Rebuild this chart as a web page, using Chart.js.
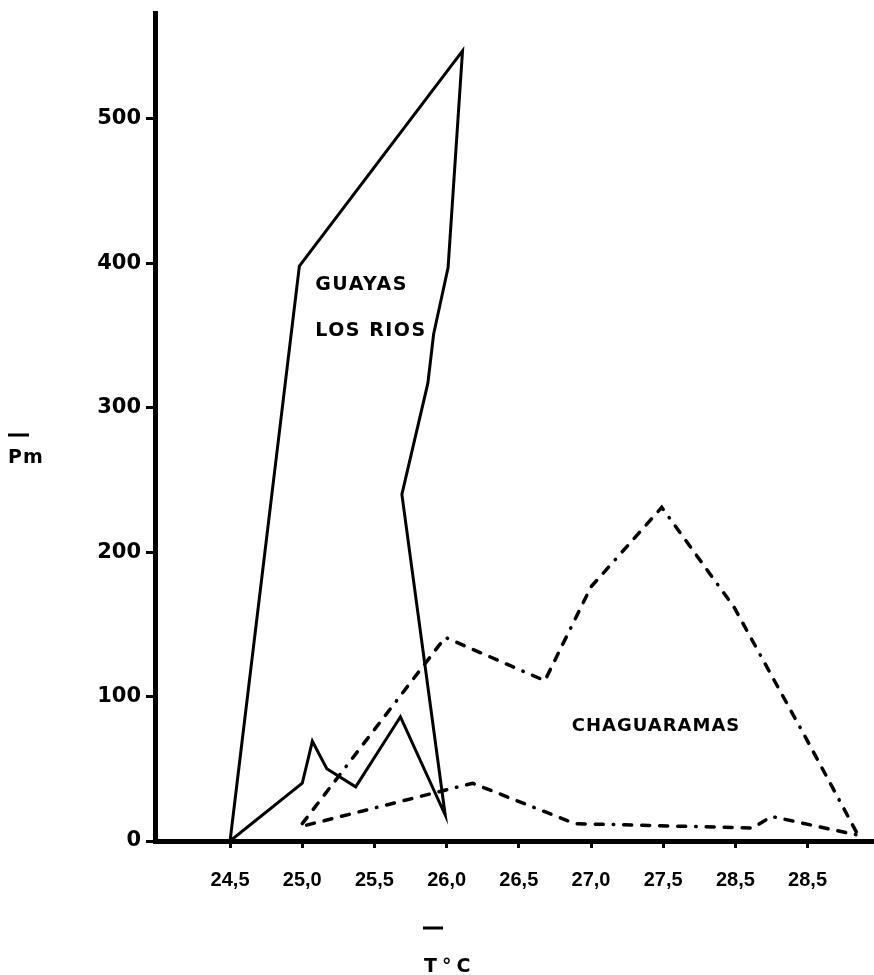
<!DOCTYPE html>
<html>
<head>
<meta charset="utf-8">
<script src="https://cdn.jsdelivr.net/npm/chart.js@4/dist/chart.umd.min.js"></script>
<style>
  html,body{margin:0;padding:0;background:#fff;}
  #wrap{width:874px;height:975px;position:relative;}
</style>
</head>
<body>
<div id="wrap"><canvas id="chart"></canvas></div>
<script>
/* Pm vs T°C -- Guayas/Los Rios (solid) and Chaguaramas (dashed) */
const xTickValues = [24.5,25,25.5,26,26.5,27,27.5,28,28.5];
const xTickLabels = ["24,5","25,0","25,5","26,0","26,5","27,0","27,5","28,5","28,5"];
const yTickValues = [0,100,200,300,400,500];

// Guayas / Los Rios: one closed outline
const guayasT  = [24.5,24.98,26.11,26.01,25.91,25.87,25.69,25.99,25.68,25.37,25.17,25.07,25.0,24.5];
const guayasPm = [0,398,547,397,351,317,240,18,86,37.5,50,69,40,0];

// Chaguaramas: upper and lower branch
const chagUpT   = [25.0,25.99,26.68,27.0,27.49,27.99,28.49,28.85];
const chagUpPm  = [12,141,111,176,231,162,71,4];
const chagLowT  = [25.03,26.18,26.89,28.12,28.25,28.85];
const chagLowPm = [11,40,12,9,17,4];

const pts=(xs,ys)=>xs.map((x,i)=>({x:x,y:ys[i]}));
const FONT="'DejaVu Sans', sans-serif";
const dash=[8,10,8,10,8,10,8,10,0.5,10];

const textPlugin={
  id:"texts",
  afterDatasetsDraw(chart){
    const {ctx,scales:{x,y}}=chart;
    ctx.save();
    ctx.fillStyle="#000";
    ctx.textBaseline="middle";
    const lab=(t,xv,yv,size,align,sp)=>{
      ctx.font=`bold ${size}px ${FONT}`;
      ctx.letterSpacing=sp+"px";
      ctx.textAlign=align;
      ctx.fillText(t,x.getPixelForValue(xv),y.getPixelForValue(yv));
    };
    lab("GUAYAS",25.09,385,19,"left",1.5);
    lab("LOS RIOS",25.09,353,19,"left",1.5);
    lab("CHAGUARAMAS",27.45,79.5,18,"center",1);
    // axis titles with overbar
    ctx.letterSpacing="1px";
    ctx.font=`bold 19px ${FONT}`;
    ctx.textAlign="left";
    ctx.fillText("Pm",8,458);
    ctx.fillRect(8,433.5,21,3);
    ctx.letterSpacing="5px";
    ctx.fillText("T°C",424,967);
    ctx.fillRect(423,926.5,20,3);
    ctx.restore();
  }
};

const dashed={borderColor:"#000",borderWidth:3.5,borderDash:dash,borderCapStyle:"round",pointRadius:0,tension:0,fill:false};

new Chart(document.getElementById("chart"),{
  type:"line",
  data:{datasets:[
    {label:"Guayas / Los Rios",data:pts(guayasT,guayasPm),borderColor:"#000",borderWidth:3,pointRadius:0,tension:0,fill:false},
    Object.assign({label:"Chaguaramas sup.",data:pts(chagUpT,chagUpPm)},dashed),
    Object.assign({label:"Chaguaramas inf.",data:pts(chagLowT,chagLowPm)},dashed)
  ]},
  options:{
    responsive:true,maintainAspectRatio:false,animation:false,
    layout:{padding:{top:12,right:0,left:0,bottom:0}},
    plugins:{legend:{display:false},tooltip:{enabled:false}},
    scales:{
      x:{type:"linear",min:23.98,max:28.96,
        afterBuildTicks:s=>{s.ticks=xTickValues.map(v=>({value:v}));},
        afterFit:s=>{s.height=134;},
        border:{display:true,color:"#000",width:5},
        grid:{drawOnChartArea:false,drawTicks:true,tickLength:7,color:"#000",lineWidth:3},
        ticks:{padding:20,color:"#000",font:{family:"'Liberation Sans', sans-serif",weight:"bold",size:20},maxRotation:0,
          callback:(v)=>{const i=xTickValues.indexOf(v);return i<0?"":xTickLabels[i];}}
      },
      y:{type:"linear",min:0,max:573,
        afterBuildTicks:s=>{s.ticks=yTickValues.map(v=>({value:v}));},
        afterFit:s=>{s.width=155;},
        border:{display:true,color:"#000",width:5},
        grid:{drawOnChartArea:false,drawTicks:true,tickLength:9,color:"#000",lineWidth:3},
        ticks:{padding:5,color:"#000",font:{family:FONT,weight:"bold",size:21,lineHeight:0.8},callback:v=>String(v)}
      }
    }
  },
  plugins:[textPlugin]
});
</script>
</body>
</html>
